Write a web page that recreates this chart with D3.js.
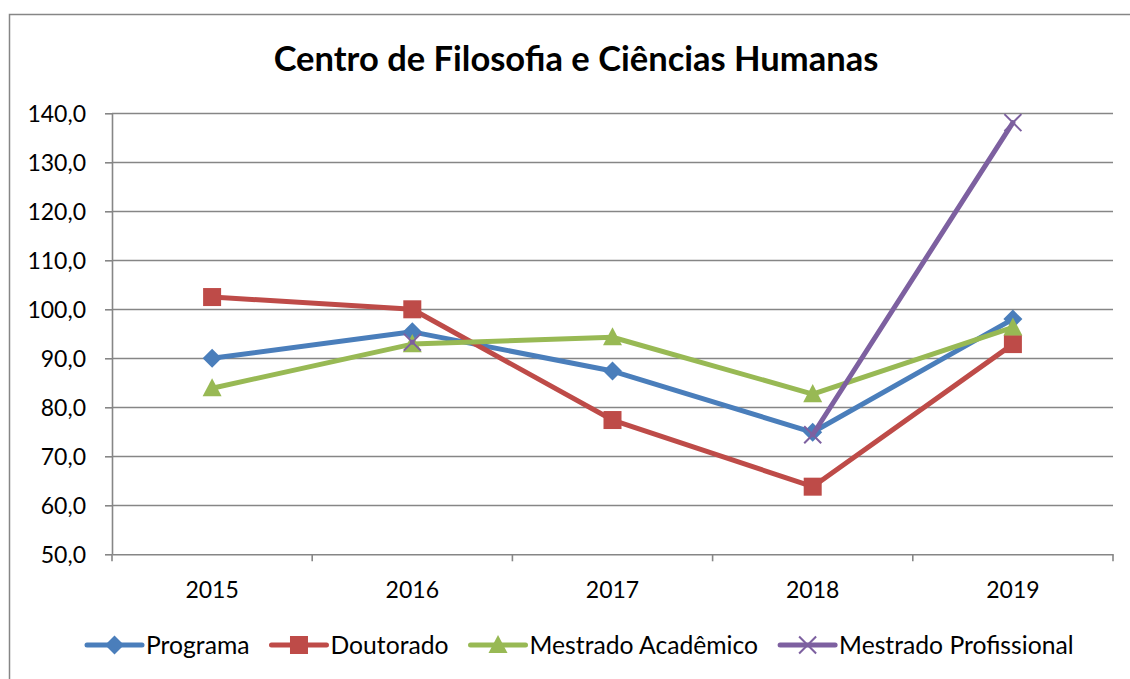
<!DOCTYPE html>
<html><head><meta charset="utf-8">
<script src="https://cdn.jsdelivr.net/npm/d3@7"></script>
<style>html,body{margin:0;padding:0;background:#fff;}svg{display:block;font-family:Lato,"Open Sans",sans-serif;}</style>
</head><body>
<svg id="c" width="1130" height="679"></svg>
<script>
const title = "Centro de Filosofia e Ciências Humanas";
const years = ["2015","2016","2017","2018","2019"];
const yTicks = [50,60,70,80,90,100,110,120,130,140];
const programa = [90.0, 95.4, 87.4, 74.9, 98.0];
const doutorado = [102.5, 100.0, 77.4, 63.8, 92.9];
const mestradoAcademico = [83.9, 92.9, 94.3, 82.7, 96.3];
const mestradoProfissional = [null, 93.3, null, 74.4, 138.1];
const seriesNames = ["Programa","Doutorado","Mestrado Acadêmico","Mestrado Profissional"];
const seriesColors = ["#4A7EBB","#BE4B48","#98B954","#7D60A0"];
const seriesMarkers = ["diamond","square","triangle","x"];

const series = [programa, doutorado, mestradoAcademico, mestradoProfissional].map((v,i)=>({
  name: seriesNames[i], color: seriesColors[i], marker: seriesMarkers[i],
  values: v.map((d,j)=>({year: years[j], value: d}))
}));

const svg = d3.select("#c");
const W = 1130, H = 679;
const m = {left:112, right:1113, top:113.3, bottom:554.3};
const grid = "#868686";

// outer border
svg.append("rect").attr("x",9.5).attr("y",14.5).attr("width",W+20).attr("height",H+20)
  .attr("fill","#fff").attr("stroke",grid).attr("stroke-width",1.5);

const x = d3.scaleBand().domain(years).range([m.left, m.right]).paddingInner(0).paddingOuter(0);
const y = d3.scaleLinear().domain([50,140]).range([m.bottom, m.top]);

// title
svg.append("text").attr("x", 576).attr("y", 71).attr("text-anchor","middle")
  .attr("font-size",34.5).attr("font-weight","bold").attr("fill","#000").text(title);

// gridlines
svg.append("g").selectAll("line").data(yTicks.filter(t=>t>50)).join("line")
  .attr("x1", m.left).attr("x2", m.right)
  .attr("y1", d=>Math.round(y(d))+0.5).attr("y2", d=>Math.round(y(d))+0.5)
  .attr("stroke", grid).attr("stroke-width",1.6);

// y axis
const yAxis = d3.axisLeft(y).tickValues(yTicks).tickSize(7).tickSizeOuter(0)
  .tickFormat(d=>d3.format(".1f")(d).replace(".",","));
const gy = svg.append("g").attr("transform",`translate(${m.left},0)`).call(yAxis);
gy.selectAll("line, path").attr("stroke",grid).attr("stroke-width",1.6);
gy.selectAll("text").attr("font-size",23).attr("fill","#000").attr("x",-26).attr("dy","0.36em")
  .attr("font-family","Lato");

// x axis
const xAxis = d3.axisBottom(x).tickSize(0).tickSizeOuter(0);
const gx = svg.append("g").attr("transform",`translate(0,${m.bottom})`).call(xAxis);
gx.select("path").attr("stroke",grid).attr("stroke-width",1.6);
gx.selectAll("text").attr("font-size",23).attr("fill","#000").attr("y",35).attr("dy","0.36em")
  .attr("font-family","Lato");
// category boundary ticks
const bounds = years.map(yv=>x(yv)).concat([x(years[years.length-1])+x.bandwidth()]);
gx.append("g").selectAll("line").data(bounds).join("line")
  .attr("x1",d=>d).attr("x2",d=>d).attr("y1",0).attr("y2",7)
  .attr("stroke",grid).attr("stroke-width",1.6);

const cx = d => x(d.year) + x.bandwidth()/2;

function drawMarker(g, type, color, px, py, s) {
  if (type === "diamond") {
    g.append("path").attr("d",`M${px},${py-s}L${px+s},${py}L${px},${py+s}L${px-s},${py}Z`).attr("fill",color);
  } else if (type === "square") {
    g.append("rect").attr("x",px-s).attr("y",py-s).attr("width",2*s).attr("height",2*s).attr("fill",color);
  } else if (type === "triangle") {
    g.append("path").attr("d",`M${px},${py-s*1.05}L${px+s},${py+s*0.85}L${px-s},${py+s*0.85}Z`).attr("fill",color);
  } else if (type === "x") {
    g.append("path").attr("d",`M${px-s},${py-s}L${px+s},${py+s}M${px-s},${py+s}L${px+s},${py-s}`)
      .attr("stroke",color).attr("stroke-width",2).attr("fill","none");
  }
}
const markerSize = {diamond:9.5, square:9, triangle:9.5, x:8.5};

const line = d3.line().defined(d=>d.value!==null).x(cx).y(d=>y(d.value));
series.forEach(s=>{
  const g = svg.append("g");
  g.append("path").datum(s.values).attr("d",line).attr("fill","none")
    .attr("stroke",s.color).attr("stroke-width",5).attr("stroke-linejoin","round").attr("stroke-linecap","round");
  s.values.filter(d=>d.value!==null).forEach(d=>drawMarker(g, s.marker, s.color, cx(d), y(d.value), markerSize[s.marker]));
});

// legend
const legY = 645;
let lx = 87;
series.forEach(s=>{
  const g = svg.append("g");
  g.append("line").attr("x1",lx).attr("x2",lx+55).attr("y1",legY).attr("y2",legY)
    .attr("stroke",s.color).attr("stroke-width",5).attr("stroke-linecap","round");
  drawMarker(g, s.marker, s.color, lx+27.5, legY, markerSize[s.marker]);
  const t = g.append("text").attr("x",lx+59).attr("y",legY).attr("dy","0.36em")
    .attr("font-size",24.7).attr("fill","#000").text(s.name);
  lx += 59 + t.node().getComputedTextLength() + 22;
});
</script>
</body></html>
